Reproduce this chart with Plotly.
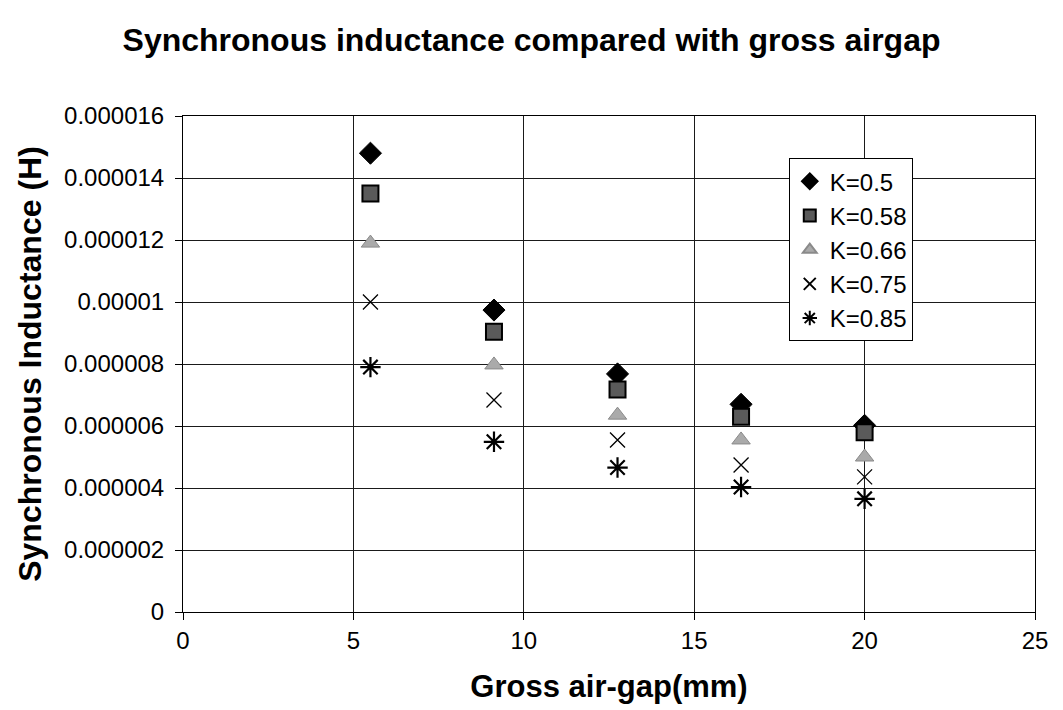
import plotly.graph_objects as go

# Gross air-gap (mm) at which the inductance was evaluated
air_gap_mm = [5.5, 9.125, 12.75, 16.375, 20.0]

# Synchronous inductance (H) for each pitch factor K
k_050 = [1.48e-5, 9.74e-6, 7.68e-6, 6.70e-6, 6.02e-6]
k_058 = [1.35e-5, 9.04e-6, 7.18e-6, 6.30e-6, 5.80e-6]
k_066 = [1.19e-5, 7.97e-6, 6.35e-6, 5.55e-6, 5.00e-6]
k_075 = [1.00e-5, 6.84e-6, 5.55e-6, 4.74e-6, 4.36e-6]
k_085 = [7.90e-6, 5.49e-6, 4.66e-6, 4.03e-6, 3.65e-6]

series_names = ["K=0.5", "K=0.58", "K=0.66", "K=0.75", "K=0.85"]

y_tick_vals = [0, 2e-6, 4e-6, 6e-6, 8e-6, 1e-5, 1.2e-5, 1.4e-5, 1.6e-5]
y_tick_text = ["0", "0.000002", "0.000004", "0.000006", "0.000008",
               "0.00001", "0.000012", "0.000014", "0.000016"]
x_tick_vals = [0, 5, 10, 15, 20, 25]

FONT = "Arial, 'Liberation Sans', sans-serif"

marker_styles = [
    dict(symbol="diamond", size=17, color="#000000",
         line=dict(color="#000000", width=1)),
    dict(symbol="square", size=16, color="#5a5a5a",
         line=dict(color="#000000", width=2)),
    dict(symbol="triangle-up", size=16, color="#aaaaaa",
         line=dict(color="#8a8a8a", width=1)),
    dict(symbol="x-thin", size=15, color="#000000",
         line=dict(color="#000000", width=1.3)),
    dict(symbol="asterisk", size=17, color="#000000",
         line=dict(color="#000000", width=2.2)),
]

fig = go.Figure()
for name, ys, mk in zip(series_names, [k_050, k_058, k_066, k_075, k_085],
                        marker_styles):
    fig.add_trace(go.Scatter(x=air_gap_mm, y=ys, mode="markers", name=name,
                             marker=mk, cliponaxis=False))

fig.update_layout(
    width=1063, height=710,
    paper_bgcolor="white", plot_bgcolor="white",
    margin=dict(l=183, r=28, t=116, b=98),
    font=dict(family=FONT, color="#000000", size=24),
    title=dict(text="<b>Synchronous inductance compared with gross airgap</b>",
               x=0.5, xref="container", xanchor="center",
               y=0.944, yref="container", yanchor="middle",
               font=dict(size=32, family=FONT, color="#000000")),
    showlegend=True,
    legend=dict(x=0.711, y=0.915, xanchor="left", yanchor="top",
                bgcolor="white", bordercolor="#000000", borderwidth=1,
                font=dict(size=24, family=FONT, color="#000000"),
                itemsizing="constant", tracegroupgap=0, itemwidth=30),
)

fig.update_xaxes(
    range=[0, 25], tickvals=x_tick_vals,
    showgrid=True, gridcolor="#1a1a1a", gridwidth=1,
    showline=True, linecolor="#000000", linewidth=1, mirror=True,
    ticks="outside", ticklen=7, tickcolor="#000000",
    zeroline=False,
    tickfont=dict(size=24, family=FONT),
    title=dict(text="<b>Gross air-gap(mm)</b>", standoff=22,
               font=dict(size=31, family=FONT)),
)
fig.update_yaxes(
    range=[0, 1.6e-5], tickvals=y_tick_vals, ticktext=y_tick_text,
    showgrid=True, gridcolor="#1a1a1a", gridwidth=1,
    showline=True, linecolor="#000000", linewidth=1, mirror=True,
    ticks="outside", ticklen=7, tickcolor="#000000",
    zeroline=False, ticklabelstandoff=6,
    tickfont=dict(size=24, family=FONT),
    title=dict(text="<b>Synchronous Inductance (H)</b>", standoff=12,
               font=dict(size=32, family=FONT)),
)

fig.write_html("out.html")
